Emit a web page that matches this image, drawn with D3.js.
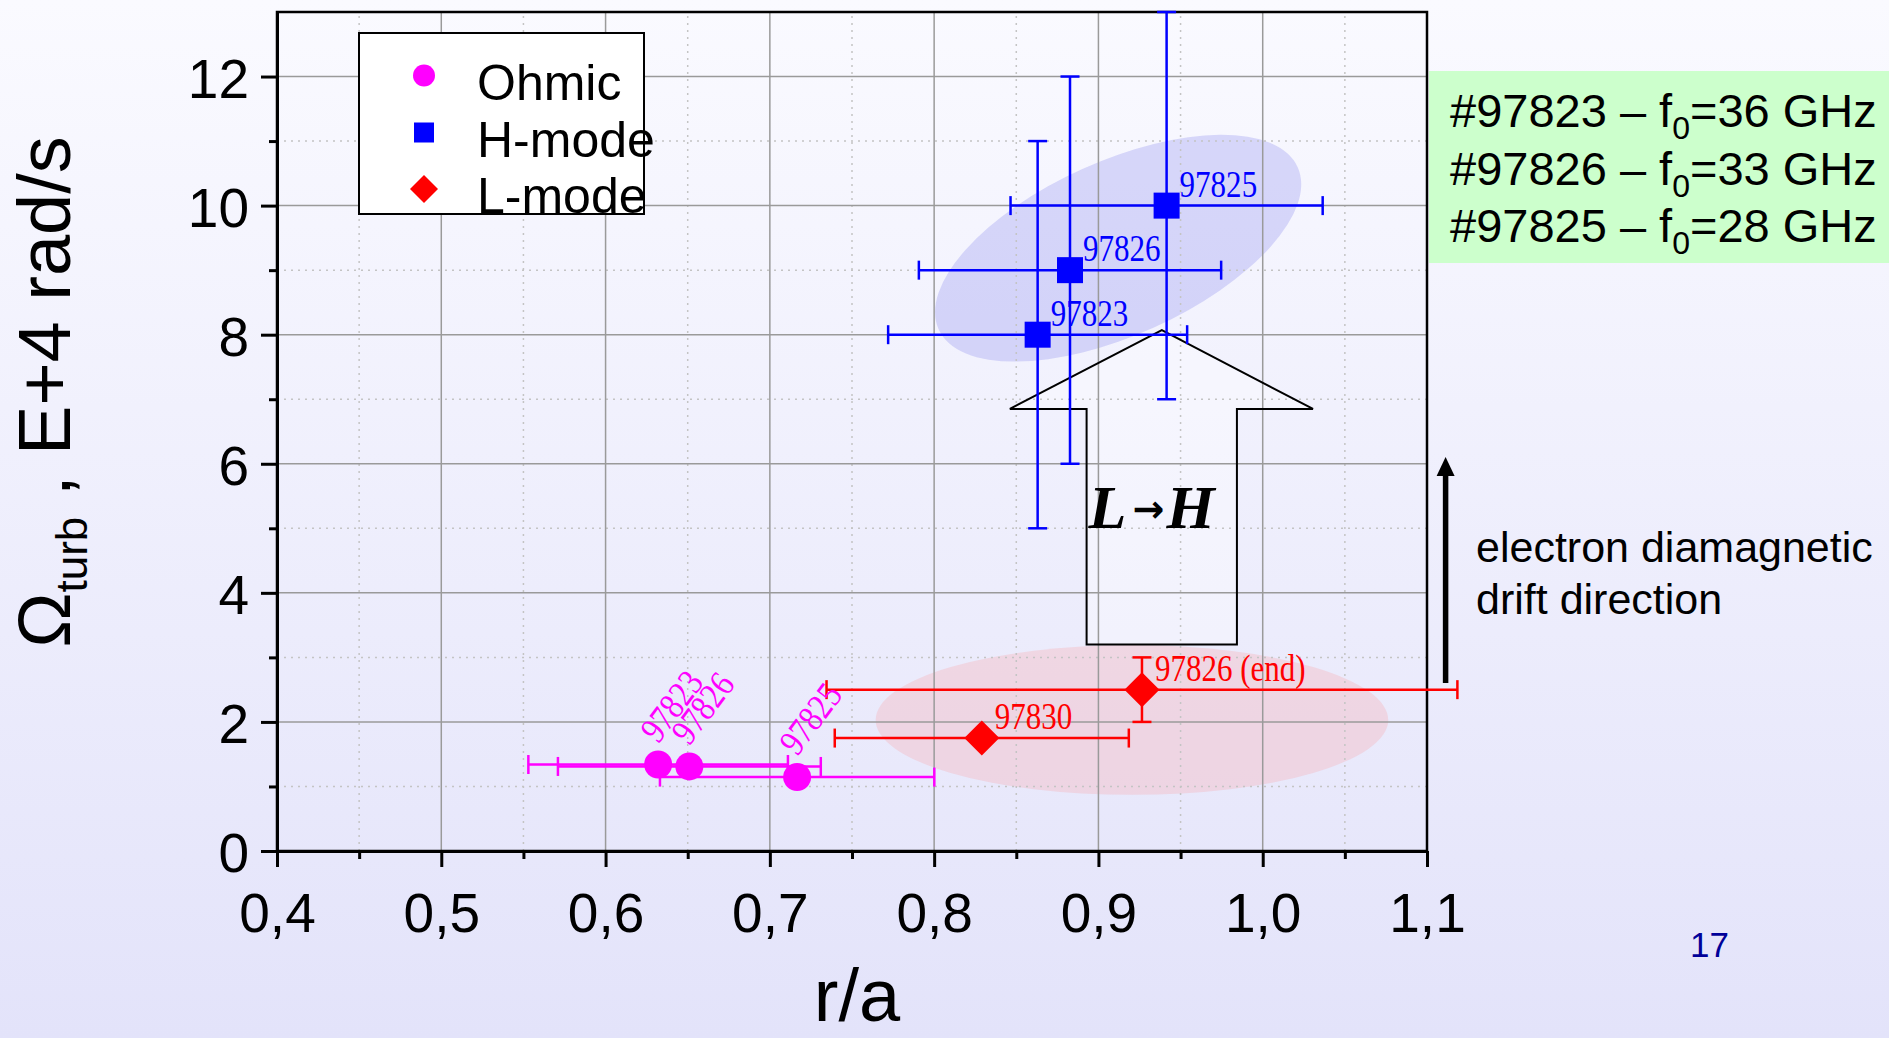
<!DOCTYPE html>
<html>
<head>
<meta charset="utf-8">
<script src="https://cdn.jsdelivr.net/npm/d3@7"></script>
<style>
  html, body { margin: 0; padding: 0; overflow: hidden; }
  svg { display: block; }
</style>
</head>
<body>
<svg id="chart" width="1889" height="1038"></svg>
<script>
// ---------------- data ----------------
// Ohmic discharges
const ohmicShots = ["97823", "97826", "97825"];
const ohmicR = [0.632, 0.651, 0.7166];
const ohmicOmega = [1.34, 1.31, 1.145];
const ohmicRErr = [0.079, 0.080, 0.0835];

// H-mode discharges
const hShots = ["97823", "97826", "97825"];
const hR = [0.863, 0.8827, 0.9415];
const hOmega = [8, 9, 10];
const hRErr = [0.091, 0.092, 0.095];
const hOmegaErr = [3, 3, 3];

// L-mode discharges
const lShots = ["97830", "97826 (end)"];
const lR = [0.829, 0.9265];
const lOmega = [1.75, 2.5];
const lRErr = [0.0895, 0.192];
const lOmegaErr = [0, 0.5];

// axes
const xTickValues = [0.4, 0.5, 0.6, 0.7, 0.8, 0.9, 1.0, 1.1];
const xTickLabels = ["0,4", "0,5", "0,6", "0,7", "0,8", "0,9", "1,0", "1,1"];
const xMinorValues = [0.45, 0.55, 0.65, 0.75, 0.85, 0.95, 1.05];
const yTickValues = [0, 2, 4, 6, 8, 10, 12];
const yTickLabels = ["0", "2", "4", "6", "8", "10", "12"];
const yMinorValues = [1, 3, 5, 7, 9, 11];

const legendLabels = ["Ohmic", "H-mode", "L-mode"];
const probeShots = ["#97823", "#97826", "#97825"];
const probeFreqGHz = ["36", "33", "28"];

// highlighted regions (data coordinates of centres)
const hRegionCentre = [0.912, 9.34];
const lRegionCentre = [0.9204, 2.03];
const lRegionHalf = [0.156, 1.16];

// L -> H transition arrow outline (data coordinates)
const lhTip = [0.9386, 8.07];
const lhHeadY = 6.85;
const lhHeadX = [0.8461, 1.0306];
const lhShaftX = [0.8928, 0.9843];
const lhBaseY = 3.2;

// ---------------- drawing ----------------
const W = 1889, H = 1038;
const svg = d3.select("#chart");
const SANS = "'Liberation Sans', Arial, Helvetica, sans-serif";
const SERIF = "'Liberation Serif', 'Times New Roman', serif";

const defs = svg.append("defs");
const grad = defs.append("linearGradient").attr("id", "bg")
  .attr("x1", 0).attr("y1", 0).attr("x2", 0).attr("y2", 1);
grad.append("stop").attr("offset", "0%").attr("stop-color", "#fafaff");
grad.append("stop").attr("offset", "100%").attr("stop-color", "#e3e3fa");
svg.append("rect").attr("width", W).attr("height", H).attr("fill", "url(#bg)");

const x = d3.scaleLinear().domain([0.4, 1.1]).range([277, 1427]);
const y = d3.scaleLinear().domain([0, 13]).range([851, 12]);
const [x0, x1] = x.range();
const [y0, y1] = y.range();

// shaded regions around the H-mode and L-mode clusters
const hcx = x(hRegionCentre[0]), hcy = y(hRegionCentre[1]);
svg.append("ellipse")
  .attr("cx", hcx).attr("cy", hcy).attr("rx", 197).attr("ry", 87)
  .attr("transform", `rotate(-24.3 ${hcx} ${hcy})`)
  .attr("fill", "rgb(140,140,240)").attr("fill-opacity", 0.3);

const lcx = x(lRegionCentre[0]), lcy = y(lRegionCentre[1]);
svg.append("ellipse")
  .attr("cx", lcx).attr("cy", lcy)
  .attr("rx", x(lRegionCentre[0] + lRegionHalf[0]) - lcx)
  .attr("ry", y(lRegionCentre[1] - lRegionHalf[1]) - lcy)
  .attr("fill", "rgb(255,140,140)").attr("fill-opacity", 0.22);

// L -> H arrow body (light fill under grid)
const lhPts = [
  [lhTip[0], lhTip[1]],
  [lhHeadX[1], lhHeadY],
  [lhShaftX[1], lhHeadY],
  [lhShaftX[1], lhBaseY],
  [lhShaftX[0], lhBaseY],
  [lhShaftX[0], lhHeadY],
  [lhHeadX[0], lhHeadY]
].map(p => [x(p[0]), y(p[1])]);
const lhPath = "M" + lhPts.map(p => p.join(",")).join("L") + "Z";
svg.append("path").attr("d", lhPath).attr("fill", "#ffffff").attr("fill-opacity", 0.35);

// grid
const grid = svg.append("g");
grid.selectAll("line.vmin").data(xMinorValues).join("line")
  .attr("x1", d => x(d)).attr("x2", d => x(d)).attr("y1", y0).attr("y2", y1)
  .attr("stroke", "#c4c4c4").attr("stroke-width", 1.5).attr("stroke-dasharray", "2,5");
grid.selectAll("line.hmin").data(yMinorValues).join("line")
  .attr("y1", d => y(d)).attr("y2", d => y(d)).attr("x1", x0).attr("x2", x1)
  .attr("stroke", "#c4c4c4").attr("stroke-width", 1.5).attr("stroke-dasharray", "2,5");
grid.selectAll("line.vmaj").data(xTickValues.slice(1, -1)).join("line")
  .attr("x1", d => x(d)).attr("x2", d => x(d)).attr("y1", y0).attr("y2", y1)
  .attr("stroke", "#9a9a9a").attr("stroke-width", 1.5);
grid.selectAll("line.hmaj").data(yTickValues.slice(1)).join("line")
  .attr("y1", d => y(d)).attr("y2", d => y(d)).attr("x1", x0).attr("x2", x1)
  .attr("stroke", "#9a9a9a").attr("stroke-width", 1.5);

// L -> H arrow outline and caption
svg.append("path").attr("d", lhPath).attr("fill", "none")
  .attr("stroke", "#000").attr("stroke-width", 2);
const lhText = svg.append("text")
  .attr("y", y(5)).attr("font-family", SERIF)
  .attr("font-weight", "bold").attr("font-style", "italic").attr("fill", "#000");
const lhX = x(lhShaftX[0]);
lhText.append("tspan").attr("x", lhX + 2).attr("font-size", 62).text("L");
lhText.append("tspan").attr("x", lhX + 46).attr("dy", -6).attr("font-size", 38)
  .attr("font-family", "'DejaVu Sans', sans-serif").attr("font-style", "normal").text("→");
lhText.append("tspan").attr("x", lhX + 80).attr("dy", 6).attr("font-size", 62).text("H");

// frame
svg.append("rect").attr("x", x0).attr("y", y1).attr("width", x1 - x0).attr("height", y0 - y1)
  .attr("fill", "none").attr("stroke", "#000").attr("stroke-width", 2.5);

// axes
const fmtX = d => xTickLabels[xTickValues.indexOf(d)];
const xAxis = svg.append("g").attr("transform", `translate(0,${y0})`)
  .call(d3.axisBottom(x).tickValues(xTickValues).tickFormat(fmtX).tickSize(16).tickPadding(26).tickSizeOuter(0));
const xMinor = svg.append("g").attr("transform", `translate(0,${y0})`)
  .call(d3.axisBottom(x).tickValues(xMinorValues).tickFormat("").tickSize(8).tickSizeOuter(0));
const fmtY = d => yTickLabels[yTickValues.indexOf(d)];
const yAxis = svg.append("g").attr("transform", `translate(${x0},0)`)
  .call(d3.axisLeft(y).tickValues(yTickValues).tickFormat(fmtY).tickSize(16).tickPadding(12).tickSizeOuter(0));
const yMinor = svg.append("g").attr("transform", `translate(${x0},0)`)
  .call(d3.axisLeft(y).tickValues(yMinorValues).tickFormat("").tickSize(8).tickSizeOuter(0));

[xAxis, xMinor, yAxis, yMinor].forEach(g => {
  g.select(".domain").attr("stroke", "#000").attr("stroke-width", 3);
  g.selectAll(".tick line").attr("stroke", "#000").attr("stroke-width", 3);
  g.selectAll(".tick text").attr("font-family", SANS).attr("font-size", 55).attr("fill", "#000");
});
yAxis.selectAll(".tick text").attr("dy", "0.38em");

// axis titles
svg.append("text").attr("x", 857).attr("y", 1021).attr("text-anchor", "middle")
  .attr("font-family", SANS).attr("font-size", 74).attr("fill", "#000").text("r/a");

const yTitle = svg.append("text")
  .attr("transform", "translate(70,392) rotate(-90)")
  .attr("text-anchor", "middle").attr("font-family", SANS).attr("font-size", 74).attr("fill", "#000");
yTitle.append("tspan").text("Ω");
yTitle.append("tspan").attr("font-size", 44).attr("dy", 17).text("turb");
yTitle.append("tspan").attr("dy", -17).text(" , E+4 rad/s");

// ---- error bars and markers ----
const CAP = 9.5;
function hErrBar(g, cx, cy, lo, hi, color) {
  g.append("line").attr("x1", lo).attr("x2", hi).attr("y1", cy).attr("y2", cy)
    .attr("stroke", color).attr("stroke-width", 2.5);
  [lo, hi].forEach(px => g.append("line").attr("x1", px).attr("x2", px)
    .attr("y1", cy - CAP).attr("y2", cy + CAP).attr("stroke", color).attr("stroke-width", 2.5));
}
function vErrBar(g, cx, cy, lo, hi, color) {
  g.append("line").attr("x1", cx).attr("x2", cx).attr("y1", lo).attr("y2", hi)
    .attr("stroke", color).attr("stroke-width", 2.5);
  [lo, hi].forEach(py => g.append("line").attr("y1", py).attr("y2", py)
    .attr("x1", cx - CAP).attr("x2", cx + CAP).attr("stroke", color).attr("stroke-width", 2.5));
}
// shot labels: narrow, tall serif digits
function shotLabel(g, tx, ty, rot, color, txt) {
  g.append("text").attr("transform", `translate(${tx},${ty}) rotate(${rot}) scale(0.94,1.12)`)
    .attr("font-family", SERIF).attr("font-size", 33).attr("fill", color).text(txt);
}

// H-mode
const gH = svg.append("g");
hR.forEach((r, i) => {
  const cx = x(r), cy = y(hOmega[i]);
  vErrBar(gH, cx, cy, y(hOmega[i] - hOmegaErr[i]), y(hOmega[i] + hOmegaErr[i]), "#0000ff");
  hErrBar(gH, cx, cy, x(r - hRErr[i]), x(r + hRErr[i]), "#0000ff");
});
hR.forEach((r, i) => {
  const cx = x(r), cy = y(hOmega[i]);
  gH.append("rect").attr("x", cx - 13).attr("y", cy - 13).attr("width", 26).attr("height", 26)
    .attr("fill", "#0000ff");
  shotLabel(gH, cx + 13, cy - 9, 0, "#0000ff", hShots[i]);
});

// L-mode
const gL = svg.append("g");
lR.forEach((r, i) => {
  const cx = x(r), cy = y(lOmega[i]);
  if (lOmegaErr[i] > 0) vErrBar(gL, cx, cy, y(lOmega[i] - lOmegaErr[i]), y(lOmega[i] + lOmegaErr[i]), "#ff0000");
  hErrBar(gL, cx, cy, x(r - lRErr[i]), x(r + lRErr[i]), "#ff0000");
});
lR.forEach((r, i) => {
  const cx = x(r), cy = y(lOmega[i]), h = 17.5;
  gL.append("path").attr("d", `M${cx},${cy - h}L${cx + h},${cy}L${cx},${cy + h}L${cx - h},${cy}Z`)
    .attr("fill", "#ff0000");
  shotLabel(gL, cx + 13, cy - 9, 0, "#ff0000", lShots[i]);
});

// Ohmic
const gO = svg.append("g");
ohmicR.forEach((r, i) => {
  const cx = x(r), cy = y(ohmicOmega[i]);
  hErrBar(gO, cx, cy, x(r - ohmicRErr[i]), x(r + ohmicRErr[i]), "#ff00ff");
});
ohmicR.forEach((r, i) => {
  const cx = x(r), cy = y(ohmicOmega[i]);
  gO.append("circle").attr("cx", cx).attr("cy", cy).attr("r", 14).attr("fill", "#ff00ff");
  shotLabel(gO, cx, cy - 20, -53, "#ff00ff", ohmicShots[i]);
});

// ---- legend ----
const leg = svg.append("g").attr("transform", "translate(359,33)");
leg.append("rect").attr("width", 285).attr("height", 181).attr("fill", "#ffffff")
  .attr("stroke", "#000").attr("stroke-width", 2);
const legRowY = [42.5, 99.5, 156];
leg.append("circle").attr("cx", 65).attr("cy", legRowY[0]).attr("r", 11).attr("fill", "#ff00ff");
leg.append("rect").attr("x", 55).attr("y", legRowY[1] - 10).attr("width", 20).attr("height", 20).attr("fill", "#0000ff");
leg.append("path").attr("d", `M65,${legRowY[2] - 14}L79,${legRowY[2]}L65,${legRowY[2] + 14}L51,${legRowY[2]}Z`)
  .attr("fill", "#ff0000");
legendLabels.forEach((t, i) => {
  leg.append("text").attr("x", 118).attr("y", legRowY[i] + 24).attr("font-family", SANS)
    .attr("font-size", 50).attr("fill", "#000").text(t);
});

// ---- probe frequencies box ----
svg.append("rect").attr("x", 1429).attr("y", 71).attr("width", W - 1429).attr("height", 192)
  .attr("fill", "#ccffcc");
probeShots.forEach((s, i) => {
  const t = svg.append("text").attr("x", 1450).attr("y", 127 + i * 57.5)
    .attr("font-family", SANS).attr("font-size", 47).attr("fill", "#000");
  t.append("tspan").text(`${s} – f`);
  t.append("tspan").attr("font-size", 32).attr("dy", 12).text("0");
  t.append("tspan").attr("dy", -12).text(`=${probeFreqGHz[i]} GHz`);
});

// ---- drift direction arrow ----
svg.append("line").attr("x1", 1445.6).attr("x2", 1445.6).attr("y1", 683).attr("y2", 472)
  .attr("stroke", "#000").attr("stroke-width", 5.5);
svg.append("path").attr("d", "M1445.6,457L1454.6,476L1436.6,476Z").attr("fill", "#000");
const drift = svg.append("text").attr("font-family", SANS).attr("font-size", 43).attr("fill", "#000");
drift.append("tspan").attr("x", 1476).attr("y", 562).text("electron diamagnetic");
drift.append("tspan").attr("x", 1476).attr("y", 614).text("drift direction");

// page number
svg.append("text").attr("x", 1690).attr("y", 957).attr("font-family", SANS).attr("font-size", 35)
  .attr("fill", "#000099").text("17");
</script>
</body>
</html>
